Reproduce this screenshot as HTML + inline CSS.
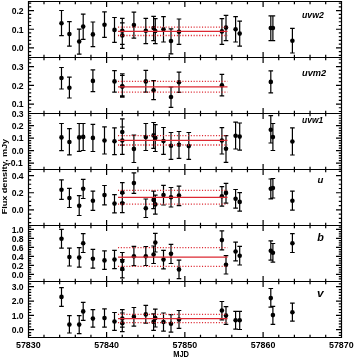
<!DOCTYPE html>
<html><head><meta charset="utf-8"><style>
html,body{margin:0;padding:0;background:#fff;width:354px;height:358px;overflow:hidden;}
svg{display:block;will-change:transform;}
.t{font-family:"Liberation Sans",sans-serif;font-weight:bold;font-size:8.6px;fill:#000;}
.fs{font-family:"Liberation Sans",sans-serif;font-weight:bold;font-style:italic;fill:#000;}
.ff{font-family:"Liberation Serif",serif;font-weight:bold;font-style:italic;fill:#000;}
</style></head><body>
<svg width="354" height="358" viewBox="0 0 354 358">
<rect x="0" y="0" width="354" height="358" fill="#fff"/>
<path d="M44 1.5v2.7M44 57.5v-2.7M59.65 1.5v2.7M59.65 57.5v-2.7M75.3 1.5v2.7M75.3 57.5v-2.7M90.95 1.5v2.7M90.95 57.5v-2.7M106.6 1.5v5.5M106.6 57.5v-5.5M122.25 1.5v2.7M122.25 57.5v-2.7M137.9 1.5v2.7M137.9 57.5v-2.7M153.55 1.5v2.7M153.55 57.5v-2.7M169.2 1.5v2.7M169.2 57.5v-2.7M184.85 1.5v5.5M184.85 57.5v-5.5M200.5 1.5v2.7M200.5 57.5v-2.7M216.15 1.5v2.7M216.15 57.5v-2.7M231.8 1.5v2.7M231.8 57.5v-2.7M247.45 1.5v2.7M247.45 57.5v-2.7M263.1 1.5v5.5M263.1 57.5v-5.5M278.75 1.5v2.7M278.75 57.5v-2.7M294.4 1.5v2.7M294.4 57.5v-2.7M310.05 1.5v2.7M310.05 57.5v-2.7M325.7 1.5v2.7M325.7 57.5v-2.7M28.5 55.37h2.7M341.5 55.37h-2.7M28.5 51.63h2.7M341.5 51.63h-2.7M28.5 47.9h5.5M341.5 47.9h-5.5M28.5 44.17h2.7M341.5 44.17h-2.7M28.5 40.43h2.7M341.5 40.43h-2.7M28.5 36.7h2.7M341.5 36.7h-2.7M28.5 32.97h2.7M341.5 32.97h-2.7M28.5 29.23h5.5M341.5 29.23h-5.5M28.5 25.5h2.7M341.5 25.5h-2.7M28.5 21.77h2.7M341.5 21.77h-2.7M28.5 18.03h2.7M341.5 18.03h-2.7M28.5 14.3h2.7M341.5 14.3h-2.7M28.5 10.57h5.5M341.5 10.57h-5.5M28.5 6.83h2.7M341.5 6.83h-2.7M28.5 3.1h2.7M341.5 3.1h-2.7M44 57.5v2.7M44 113.5v-2.7M59.65 57.5v2.7M59.65 113.5v-2.7M75.3 57.5v2.7M75.3 113.5v-2.7M90.95 57.5v2.7M90.95 113.5v-2.7M106.6 57.5v5.5M106.6 113.5v-5.5M122.25 57.5v2.7M122.25 113.5v-2.7M137.9 57.5v2.7M137.9 113.5v-2.7M153.55 57.5v2.7M153.55 113.5v-2.7M169.2 57.5v2.7M169.2 113.5v-2.7M184.85 57.5v5.5M184.85 113.5v-5.5M200.5 57.5v2.7M200.5 113.5v-2.7M216.15 57.5v2.7M216.15 113.5v-2.7M231.8 57.5v2.7M231.8 113.5v-2.7M247.45 57.5v2.7M247.45 113.5v-2.7M263.1 57.5v5.5M263.1 113.5v-5.5M278.75 57.5v2.7M278.75 113.5v-2.7M294.4 57.5v2.7M294.4 113.5v-2.7M310.05 57.5v2.7M310.05 113.5v-2.7M325.7 57.5v2.7M325.7 113.5v-2.7M28.5 111.5h2.7M341.5 111.5h-2.7M28.5 107.77h2.7M341.5 107.77h-2.7M28.5 104.03h5.5M341.5 104.03h-5.5M28.5 100.3h2.7M341.5 100.3h-2.7M28.5 96.57h2.7M341.5 96.57h-2.7M28.5 92.83h2.7M341.5 92.83h-2.7M28.5 89.1h2.7M341.5 89.1h-2.7M28.5 85.37h5.5M341.5 85.37h-5.5M28.5 81.63h2.7M341.5 81.63h-2.7M28.5 77.9h2.7M341.5 77.9h-2.7M28.5 74.17h2.7M341.5 74.17h-2.7M28.5 70.43h2.7M341.5 70.43h-2.7M28.5 66.7h5.5M341.5 66.7h-5.5M28.5 62.97h2.7M341.5 62.97h-2.7M28.5 59.23h2.7M341.5 59.23h-2.7M44 113.5v2.7M44 169.5v-2.7M59.65 113.5v2.7M59.65 169.5v-2.7M75.3 113.5v2.7M75.3 169.5v-2.7M90.95 113.5v2.7M90.95 169.5v-2.7M106.6 113.5v5.5M106.6 169.5v-5.5M122.25 113.5v2.7M122.25 169.5v-2.7M137.9 113.5v2.7M137.9 169.5v-2.7M153.55 113.5v2.7M153.55 169.5v-2.7M169.2 113.5v2.7M169.2 169.5v-2.7M184.85 113.5v5.5M184.85 169.5v-5.5M200.5 113.5v2.7M200.5 169.5v-2.7M216.15 113.5v2.7M216.15 169.5v-2.7M231.8 113.5v2.7M231.8 169.5v-2.7M247.45 113.5v2.7M247.45 169.5v-2.7M263.1 113.5v5.5M263.1 169.5v-5.5M278.75 113.5v2.7M278.75 169.5v-2.7M294.4 113.5v2.7M294.4 169.5v-2.7M310.05 113.5v2.7M310.05 169.5v-2.7M325.7 113.5v2.7M325.7 169.5v-2.7M28.5 168.02h2.7M341.5 168.02h-2.7M28.5 165.53h2.7M341.5 165.53h-2.7M28.5 163.04h5.5M341.5 163.04h-5.5M28.5 160.56h2.7M341.5 160.56h-2.7M28.5 158.07h2.7M341.5 158.07h-2.7M28.5 155.58h2.7M341.5 155.58h-2.7M28.5 153.09h2.7M341.5 153.09h-2.7M28.5 150.6h5.5M341.5 150.6h-5.5M28.5 148.11h2.7M341.5 148.11h-2.7M28.5 145.62h2.7M341.5 145.62h-2.7M28.5 143.13h2.7M341.5 143.13h-2.7M28.5 140.64h2.7M341.5 140.64h-2.7M28.5 138.16h5.5M341.5 138.16h-5.5M28.5 135.67h2.7M341.5 135.67h-2.7M28.5 133.18h2.7M341.5 133.18h-2.7M28.5 130.69h2.7M341.5 130.69h-2.7M28.5 128.2h2.7M341.5 128.2h-2.7M28.5 125.71h5.5M341.5 125.71h-5.5M28.5 123.22h2.7M341.5 123.22h-2.7M28.5 120.73h2.7M341.5 120.73h-2.7M28.5 118.25h2.7M341.5 118.25h-2.7M28.5 115.76h2.7M341.5 115.76h-2.7M44 169.5v2.7M44 225.5v-2.7M59.65 169.5v2.7M59.65 225.5v-2.7M75.3 169.5v2.7M75.3 225.5v-2.7M90.95 169.5v2.7M90.95 225.5v-2.7M106.6 169.5v5.5M106.6 225.5v-5.5M122.25 169.5v2.7M122.25 225.5v-2.7M137.9 169.5v2.7M137.9 225.5v-2.7M153.55 169.5v2.7M153.55 225.5v-2.7M169.2 169.5v2.7M169.2 225.5v-2.7M184.85 169.5v5.5M184.85 225.5v-5.5M200.5 169.5v2.7M200.5 225.5v-2.7M216.15 169.5v2.7M216.15 225.5v-2.7M231.8 169.5v2.7M231.8 225.5v-2.7M247.45 169.5v2.7M247.45 225.5v-2.7M263.1 169.5v5.5M263.1 225.5v-5.5M278.75 169.5v2.7M278.75 225.5v-2.7M294.4 169.5v2.7M294.4 225.5v-2.7M310.05 169.5v2.7M310.05 225.5v-2.7M325.7 169.5v2.7M325.7 225.5v-2.7M28.5 222.59h2.7M341.5 222.59h-2.7M28.5 218.33h2.7M341.5 218.33h-2.7M28.5 214.06h2.7M341.5 214.06h-2.7M28.5 209.8h5.5M341.5 209.8h-5.5M28.5 205.54h2.7M341.5 205.54h-2.7M28.5 201.28h2.7M341.5 201.28h-2.7M28.5 197.01h2.7M341.5 197.01h-2.7M28.5 192.75h5.5M341.5 192.75h-5.5M28.5 188.49h2.7M341.5 188.49h-2.7M28.5 184.23h2.7M341.5 184.23h-2.7M28.5 179.96h2.7M341.5 179.96h-2.7M28.5 175.7h5.5M341.5 175.7h-5.5M28.5 171.44h2.7M341.5 171.44h-2.7M44 225.5v2.7M44 281.5v-2.7M59.65 225.5v2.7M59.65 281.5v-2.7M75.3 225.5v2.7M75.3 281.5v-2.7M90.95 225.5v2.7M90.95 281.5v-2.7M106.6 225.5v5.5M106.6 281.5v-5.5M122.25 225.5v2.7M122.25 281.5v-2.7M137.9 225.5v2.7M137.9 281.5v-2.7M153.55 225.5v2.7M153.55 281.5v-2.7M169.2 225.5v2.7M169.2 281.5v-2.7M184.85 225.5v5.5M184.85 281.5v-5.5M200.5 225.5v2.7M200.5 281.5v-2.7M216.15 225.5v2.7M216.15 281.5v-2.7M231.8 225.5v2.7M231.8 281.5v-2.7M247.45 225.5v2.7M247.45 281.5v-2.7M263.1 225.5v5.5M263.1 281.5v-5.5M278.75 225.5v2.7M278.75 281.5v-2.7M294.4 225.5v2.7M294.4 281.5v-2.7M310.05 225.5v2.7M310.05 281.5v-2.7M325.7 225.5v2.7M325.7 281.5v-2.7M28.5 278.79h2.7M341.5 278.79h-2.7M28.5 276.55h2.7M341.5 276.55h-2.7M28.5 274.3h5.5M341.5 274.3h-5.5M28.5 272.06h2.7M341.5 272.06h-2.7M28.5 269.81h2.7M341.5 269.81h-2.7M28.5 267.56h2.7M341.5 267.56h-2.7M28.5 265.32h5.5M341.5 265.32h-5.5M28.5 263.07h2.7M341.5 263.07h-2.7M28.5 260.83h2.7M341.5 260.83h-2.7M28.5 258.59h2.7M341.5 258.59h-2.7M28.5 256.34h5.5M341.5 256.34h-5.5M28.5 254.1h2.7M341.5 254.1h-2.7M28.5 251.85h2.7M341.5 251.85h-2.7M28.5 249.61h2.7M341.5 249.61h-2.7M28.5 247.36h5.5M341.5 247.36h-5.5M28.5 245.12h2.7M341.5 245.12h-2.7M28.5 242.87h2.7M341.5 242.87h-2.7M28.5 240.62h2.7M341.5 240.62h-2.7M28.5 238.38h5.5M341.5 238.38h-5.5M28.5 236.13h2.7M341.5 236.13h-2.7M28.5 233.89h2.7M341.5 233.89h-2.7M28.5 231.65h2.7M341.5 231.65h-2.7M28.5 229.4h5.5M341.5 229.4h-5.5M28.5 227.16h2.7M341.5 227.16h-2.7M44 281.5v2.7M44 337.5v-2.7M59.65 281.5v2.7M59.65 337.5v-2.7M75.3 281.5v2.7M75.3 337.5v-2.7M90.95 281.5v2.7M90.95 337.5v-2.7M106.6 281.5v5.5M106.6 337.5v-5.5M122.25 281.5v2.7M122.25 337.5v-2.7M137.9 281.5v2.7M137.9 337.5v-2.7M153.55 281.5v2.7M153.55 337.5v-2.7M169.2 281.5v2.7M169.2 337.5v-2.7M184.85 281.5v5.5M184.85 337.5v-5.5M200.5 281.5v2.7M200.5 337.5v-2.7M216.15 281.5v2.7M216.15 337.5v-2.7M231.8 281.5v2.7M231.8 337.5v-2.7M247.45 281.5v2.7M247.45 337.5v-2.7M263.1 281.5v5.5M263.1 337.5v-5.5M278.75 281.5v2.7M278.75 337.5v-2.7M294.4 281.5v2.7M294.4 337.5v-2.7M310.05 281.5v2.7M310.05 337.5v-2.7M325.7 281.5v2.7M325.7 337.5v-2.7M28.5 335.43h2.7M341.5 335.43h-2.7M28.5 332.57h2.7M341.5 332.57h-2.7M28.5 329.7h5.5M341.5 329.7h-5.5M28.5 326.83h2.7M341.5 326.83h-2.7M28.5 323.97h2.7M341.5 323.97h-2.7M28.5 321.1h2.7M341.5 321.1h-2.7M28.5 318.24h2.7M341.5 318.24h-2.7M28.5 315.37h5.5M341.5 315.37h-5.5M28.5 312.5h2.7M341.5 312.5h-2.7M28.5 309.64h2.7M341.5 309.64h-2.7M28.5 306.77h2.7M341.5 306.77h-2.7M28.5 303.91h2.7M341.5 303.91h-2.7M28.5 301.04h5.5M341.5 301.04h-5.5M28.5 298.17h2.7M341.5 298.17h-2.7M28.5 295.31h2.7M341.5 295.31h-2.7M28.5 292.44h2.7M341.5 292.44h-2.7M28.5 289.58h2.7M341.5 289.58h-2.7M28.5 286.71h5.5M341.5 286.71h-5.5M28.5 283.84h2.7M341.5 283.84h-2.7" stroke="#000" stroke-width="1.2" fill="none"/>
<path d="M61.5 10.5V35.6M59.2 10.5h4.6M59.2 35.6h4.6M69.4 21.7V46.1M67.1 21.7h4.6M67.1 46.1h4.6M79.2 29.2V54.2M76.9 29.2h4.6M76.9 54.2h4.6M83.2 14.1V39.3M80.9 14.1h4.6M80.9 39.3h4.6M92.9 22V46.6M90.6 22h4.6M90.6 46.6h4.6M104.5 11.9V37.3M102.2 11.9h4.6M102.2 37.3h4.6M114.5 17.5V42.4M112.2 17.5h4.6M112.2 42.4h4.6M122.3 18.3V44.4M120 18.3h4.6M120 44.4h4.6M122.3 22.9V48.3M120 22.9h4.6M120 48.3h4.6M133.9 12.2V38.1M131.6 12.2h4.6M131.6 38.1h4.6M145.8 18.3V43.6M143.5 18.3h4.6M143.5 43.6h4.6M153.6 16.4V40.7M151.3 16.4h4.6M151.3 40.7h4.6M155.3 18.6V43.7M153 18.6h4.6M153 43.7h4.6M163.5 16.6V42M161.2 16.6h4.6M161.2 42h4.6M171 28.8V53.9M168.7 28.8h4.6M168.7 53.9h4.6M179 19V44.4M176.7 19h4.6M176.7 44.4h4.6M221.9 18.6V44.4M219.6 18.6h4.6M219.6 44.4h4.6M226 15.3V40.7M223.7 15.3h4.6M223.7 40.7h4.6M235.6 16.6V42M233.3 16.6h4.6M233.3 42h4.6M239.7 21.2V46.1M237.4 21.2h4.6M237.4 46.1h4.6M270.8 15.8V40.7M268.5 15.8h4.6M268.5 40.7h4.6M272.9 15.8V40.7M270.6 15.8h4.6M270.6 40.7h4.6M292.4 28.3V53M290.1 28.3h4.6M290.1 53h4.6" stroke="#000" stroke-width="1.2" fill="none"/>
<g fill="#000"><circle cx="61.5" cy="23.2" r="2.3"/><circle cx="69.4" cy="34.1" r="2.3"/><circle cx="79.2" cy="41.5" r="2.3"/><circle cx="83.2" cy="26.6" r="2.3"/><circle cx="92.9" cy="34.4" r="2.3"/><circle cx="104.5" cy="24.7" r="2.3"/><circle cx="114.5" cy="29.9" r="2.3"/><circle cx="122.3" cy="30.8" r="2.3"/><circle cx="122.3" cy="35.4" r="2.3"/><circle cx="133.9" cy="25.1" r="2.3"/><circle cx="145.8" cy="30.8" r="2.3"/><circle cx="153.6" cy="28" r="2.3"/><circle cx="155.3" cy="31" r="2.3"/><circle cx="163.5" cy="29.2" r="2.3"/><circle cx="171" cy="41" r="2.3"/><circle cx="179" cy="31.7" r="2.3"/><circle cx="221.9" cy="31.4" r="2.3"/><circle cx="226" cy="27.6" r="2.3"/><circle cx="235.6" cy="29.3" r="2.3"/><circle cx="239.7" cy="33.6" r="2.3"/><circle cx="270.8" cy="28" r="2.3"/><circle cx="272.9" cy="28" r="2.3"/><circle cx="292.4" cy="40.7" r="2.3"/></g>
<path d="M118 31.3H227.5" stroke="#dc2832" stroke-width="1.2"/>
<path d="M118 27.1H227.5M118 35.5H227.5" stroke="#dc2832" stroke-width="1.3" stroke-dasharray="1.1 1.7"/>
<path d="M61.5 67.5V89M59.2 67.5h4.6M59.2 89h4.6M69.4 77.2V98M67.1 77.2h4.6M67.1 98h4.6M92.9 69.9V91.6M90.6 69.9h4.6M90.6 91.6h4.6M114.5 70.7V92.1M112.2 70.7h4.6M112.2 92.1h4.6M122.3 73.8V95.8M120 73.8h4.6M120 95.8h4.6M122.3 75.5V97.2M120 75.5h4.6M120 97.2h4.6M145.8 70.4V92.1M143.5 70.4h4.6M143.5 92.1h4.6M153.6 80.6V99.7M151.3 80.6h4.6M151.3 99.7h4.6M171 87V107.4M168.7 87h4.6M168.7 107.4h4.6M179 72.1V92.4M176.7 72.1h4.6M176.7 92.4h4.6M221.9 74.3V95.8M219.6 74.3h4.6M219.6 95.8h4.6M270.8 70.9V92.8M268.5 70.9h4.6M268.5 92.8h4.6" stroke="#000" stroke-width="1.2" fill="none"/>
<g fill="#000"><circle cx="61.5" cy="78" r="2.3"/><circle cx="69.4" cy="87.7" r="2.3"/><circle cx="92.9" cy="80.9" r="2.3"/><circle cx="114.5" cy="81.4" r="2.3"/><circle cx="122.3" cy="86.2" r="2.3"/><circle cx="122.3" cy="86.6" r="2.3"/><circle cx="145.8" cy="81.4" r="2.3"/><circle cx="153.6" cy="90.2" r="2.3"/><circle cx="171" cy="97" r="2.3"/><circle cx="179" cy="82.3" r="2.3"/><circle cx="221.9" cy="85.2" r="2.3"/><circle cx="270.8" cy="81.9" r="2.3"/></g>
<path d="M118 86.8H227.5" stroke="#dc2832" stroke-width="1.2"/>
<path d="M118 81.4H227.5M118 92.1H227.5" stroke="#dc2832" stroke-width="1.3" stroke-dasharray="1.1 1.7"/>
<path d="M61.5 123.5V150.6M59.2 123.5h4.6M59.2 150.6h4.6M69.4 128.6V154.9M67.1 128.6h4.6M67.1 154.9h4.6M79.2 123.5V151.3M76.9 123.5h4.6M76.9 151.3h4.6M83.2 123.5V150.5M80.9 123.5h4.6M80.9 150.5h4.6M92.9 124.4V151.5M90.6 124.4h4.6M90.6 151.5h4.6M104.5 126.9V154M102.2 126.9h4.6M102.2 154h4.6M114.5 127.8V154.7M112.2 127.8h4.6M112.2 154.7h4.6M122.3 118.8V145.2M120 118.8h4.6M120 145.2h4.6M122.3 127V154.4M120 127h4.6M120 154.4h4.6M133.9 135.2V162.5M131.6 135.2h4.6M131.6 162.5h4.6M145.8 123.5V150.5M143.5 123.5h4.6M143.5 150.5h4.6M153.6 122.5V148.4M151.3 122.5h4.6M151.3 148.4h4.6M155.3 124.7V151.5M153 124.7h4.6M153 151.5h4.6M163.5 127.5V154.4M161.2 127.5h4.6M161.2 154.4h4.6M171 132.5V159.3M168.7 132.5h4.6M168.7 159.3h4.6M179 131.5V158.4M176.7 131.5h4.6M176.7 158.4h4.6M188.8 132.5V159.4M186.5 132.5h4.6M186.5 159.4h4.6M221.9 127.6V154M219.6 127.6h4.6M219.6 154h4.6M226 135.7V162.3M223.7 135.7h4.6M223.7 162.3h4.6M235.6 122.2V149M233.3 122.2h4.6M233.3 149h4.6M239.7 123V150.1M237.4 123h4.6M237.4 150.1h4.6M270.8 115.7V143M268.5 115.7h4.6M268.5 143h4.6M272.9 123.5V150.5M270.6 123.5h4.6M270.6 150.5h4.6M292.4 127.9V155M290.1 127.9h4.6M290.1 155h4.6" stroke="#000" stroke-width="1.2" fill="none"/>
<g fill="#000"><circle cx="61.5" cy="137.4" r="2.3"/><circle cx="69.4" cy="142" r="2.3"/><circle cx="79.2" cy="137.4" r="2.3"/><circle cx="83.2" cy="136.9" r="2.3"/><circle cx="92.9" cy="137.9" r="2.3"/><circle cx="104.5" cy="140.5" r="2.3"/><circle cx="114.5" cy="141.3" r="2.3"/><circle cx="122.3" cy="132" r="2.3"/><circle cx="122.3" cy="140.5" r="2.3"/><circle cx="133.9" cy="148.9" r="2.3"/><circle cx="145.8" cy="137.1" r="2.3"/><circle cx="153.6" cy="135.4" r="2.3"/><circle cx="155.3" cy="137.9" r="2.3"/><circle cx="163.5" cy="141" r="2.3"/><circle cx="171" cy="145.8" r="2.3"/><circle cx="179" cy="144.7" r="2.3"/><circle cx="188.8" cy="146.1" r="2.3"/><circle cx="221.9" cy="140.5" r="2.3"/><circle cx="226" cy="148.8" r="2.3"/><circle cx="235.6" cy="135.7" r="2.3"/><circle cx="239.7" cy="136.6" r="2.3"/><circle cx="270.8" cy="129.8" r="2.3"/><circle cx="272.9" cy="137.1" r="2.3"/><circle cx="292.4" cy="141.5" r="2.3"/></g>
<path d="M118 140.3H227.5" stroke="#dc2832" stroke-width="1.2"/>
<path d="M118 135.7H227.5M118 145H227.5" stroke="#dc2832" stroke-width="1.3" stroke-dasharray="1.1 1.7"/>
<path d="M61.5 179.9V199.4M59.2 179.9h4.6M59.2 199.4h4.6M69.4 188.3V207.5M67.1 188.3h4.6M67.1 207.5h4.6M79.2 195.6V215.5M76.9 195.6h4.6M76.9 215.5h4.6M83.2 179.4V198.5M80.9 179.4h4.6M80.9 198.5h4.6M92.9 191.2V210.4M90.6 191.2h4.6M90.6 210.4h4.6M104.5 185.5V204.9M102.2 185.5h4.6M102.2 204.9h4.6M114.5 194.6V212.9M112.2 194.6h4.6M112.2 212.9h4.6M122.3 182.7V202.5M120 182.7h4.6M120 202.5h4.6M122.3 193.5V212.6M120 193.5h4.6M120 212.6h4.6M133.9 172.9V193.4M131.6 172.9h4.6M131.6 193.4h4.6M145.8 199V217.5M143.5 199h4.6M143.5 217.5h4.6M153.6 191.2V208.7M151.3 191.2h4.6M151.3 208.7h4.6M155.3 195.1V214.1M153 195.1h4.6M153 214.1h4.6M163.5 185.3V205M161.2 185.3h4.6M161.2 205h4.6M171 187.5V207M168.7 187.5h4.6M168.7 207h4.6M179 186.1V205.6M176.7 186.1h4.6M176.7 205.6h4.6M221.9 186.6V206.1M219.6 186.6h4.6M219.6 206.1h4.6M226 183.3V203.1M223.7 183.3h4.6M223.7 203.1h4.6M235.6 189.5V208.2M233.3 189.5h4.6M233.3 208.2h4.6M239.7 192.6V211.2M237.4 192.6h4.6M237.4 211.2h4.6M270.8 179V198.8M268.5 179h4.6M268.5 198.8h4.6M272.9 178.5V198M270.6 178.5h4.6M270.6 198h4.6M292.4 191.2V210.1M290.1 191.2h4.6M290.1 210.1h4.6" stroke="#000" stroke-width="1.2" fill="none"/>
<g fill="#000"><circle cx="61.5" cy="189.7" r="2.3"/><circle cx="69.4" cy="198" r="2.3"/><circle cx="79.2" cy="205.8" r="2.3"/><circle cx="83.2" cy="188.8" r="2.3"/><circle cx="92.9" cy="200.7" r="2.3"/><circle cx="104.5" cy="195.1" r="2.3"/><circle cx="114.5" cy="203.6" r="2.3"/><circle cx="122.3" cy="192.6" r="2.3"/><circle cx="122.3" cy="203.3" r="2.3"/><circle cx="133.9" cy="183.1" r="2.3"/><circle cx="145.8" cy="208.2" r="2.3"/><circle cx="153.6" cy="199.9" r="2.3"/><circle cx="155.3" cy="204.4" r="2.3"/><circle cx="163.5" cy="195.1" r="2.3"/><circle cx="171" cy="197.2" r="2.3"/><circle cx="179" cy="195.6" r="2.3"/><circle cx="221.9" cy="196.3" r="2.3"/><circle cx="226" cy="192.9" r="2.3"/><circle cx="235.6" cy="198.8" r="2.3"/><circle cx="239.7" cy="201.9" r="2.3"/><circle cx="270.8" cy="188.8" r="2.3"/><circle cx="272.9" cy="188" r="2.3"/><circle cx="292.4" cy="200.7" r="2.3"/></g>
<path d="M118 197.3H227.5" stroke="#dc2832" stroke-width="1.2"/>
<path d="M118 190.4H227.5M118 204.1H227.5" stroke="#dc2832" stroke-width="1.3" stroke-dasharray="1.1 1.7"/>
<path d="M61.5 229.4V248.2M59.2 229.4h4.6M59.2 248.2h4.6M69.4 248.2V266M67.1 248.2h4.6M67.1 266h4.6M79.2 247.7V267.2M76.9 247.7h4.6M76.9 267.2h4.6M83.2 233.7V252.5M80.9 233.7h4.6M80.9 252.5h4.6M92.9 249.4V268.1M90.6 249.4h4.6M90.6 268.1h4.6M104.5 250.8V269.4M102.2 250.8h4.6M102.2 269.4h4.6M114.5 250.3V268.6M112.2 250.3h4.6M112.2 268.6h4.6M122.3 252.5V270M120 252.5h4.6M120 270h4.6M122.3 259.5V277.9M120 259.5h4.6M120 277.9h4.6M133.9 246.4V265.7M131.6 246.4h4.6M131.6 265.7h4.6M145.8 246.5V265.5M143.5 246.5h4.6M143.5 265.5h4.6M153.6 246V263.5M151.3 246h4.6M151.3 263.5h4.6M155.3 233.3V252M153 233.3h4.6M153 252h4.6M163.5 250.3V268.9M161.2 250.3h4.6M161.2 268.9h4.6M171 244.3V263.5M168.7 244.3h4.6M168.7 263.5h4.6M179 260.1V278.6M176.7 260.1h4.6M176.7 278.6h4.6M221.9 230.8V249.9M219.6 230.8h4.6M219.6 249.9h4.6M226 255.7V274M223.7 255.7h4.6M223.7 274h4.6M235.6 242.1V260.8M233.3 242.1h4.6M233.3 260.8h4.6M239.7 246.4V265M237.4 246.4h4.6M237.4 265h4.6M270.8 240.9V260.1M268.5 240.9h4.6M268.5 260.1h4.6M272.9 243.5V262.1M270.6 243.5h4.6M270.6 262.1h4.6M292.4 233.7V252.5M290.1 233.7h4.6M290.1 252.5h4.6" stroke="#000" stroke-width="1.2" fill="none"/>
<g fill="#000"><circle cx="61.5" cy="238.7" r="2.3"/><circle cx="69.4" cy="257" r="2.3"/><circle cx="79.2" cy="257.6" r="2.3"/><circle cx="83.2" cy="243.2" r="2.3"/><circle cx="92.9" cy="258.7" r="2.3"/><circle cx="104.5" cy="260.4" r="2.3"/><circle cx="114.5" cy="259.6" r="2.3"/><circle cx="122.3" cy="261" r="2.3"/><circle cx="122.3" cy="268.9" r="2.3"/><circle cx="133.9" cy="256.2" r="2.3"/><circle cx="145.8" cy="256.2" r="2.3"/><circle cx="153.6" cy="254.5" r="2.3"/><circle cx="155.3" cy="242.6" r="2.3"/><circle cx="163.5" cy="259.6" r="2.3"/><circle cx="171" cy="253.7" r="2.3"/><circle cx="179" cy="269.4" r="2.3"/><circle cx="221.9" cy="240.1" r="2.3"/><circle cx="226" cy="264.7" r="2.3"/><circle cx="235.6" cy="251.5" r="2.3"/><circle cx="239.7" cy="255.7" r="2.3"/><circle cx="270.8" cy="250.8" r="2.3"/><circle cx="272.9" cy="252.8" r="2.3"/><circle cx="292.4" cy="243.2" r="2.3"/></g>
<path d="M118 257.2H227.5" stroke="#dc2832" stroke-width="1.2"/>
<path d="M118 247.7H227.5M118 266.4H227.5" stroke="#dc2832" stroke-width="1.3" stroke-dasharray="1.1 1.7"/>
<path d="M61.5 287.6V306.3M59.2 287.6h4.6M59.2 306.3h4.6M69.4 315.6V333M67.1 315.6h4.6M67.1 333h4.6M79.2 315.6V333.6M76.9 315.6h4.6M76.9 333.6h4.6M83.2 302.4V320.3M80.9 302.4h4.6M80.9 320.3h4.6M92.9 309.7V327.1M90.6 309.7h4.6M90.6 327.1h4.6M104.5 308.8V327.1M102.2 308.8h4.6M102.2 327.1h4.6M114.5 312.5V330.3M112.2 312.5h4.6M112.2 330.3h4.6M122.3 309.7V327.1M120 309.7h4.6M120 327.1h4.6M122.3 313V331.7M120 313h4.6M120 331.7h4.6M133.9 307.5V326.1M131.6 307.5h4.6M131.6 326.1h4.6M145.8 305.4V323.2M143.5 305.4h4.6M143.5 323.2h4.6M153.6 313.9V330.3M151.3 313.9h4.6M151.3 330.3h4.6M155.3 309.2V327M153 309.2h4.6M153 327h4.6M163.5 313V331.2M161.2 313h4.6M161.2 331.2h4.6M171 314.7V332.2M168.7 314.7h4.6M168.7 332.2h4.6M179 310.5V328.3M176.7 310.5h4.6M176.7 328.3h4.6M221.9 301.5V319.8M219.6 301.5h4.6M219.6 319.8h4.6M226 306.6V324.4M223.7 306.6h4.6M223.7 324.4h4.6M235.6 311.4V329.2M233.3 311.4h4.6M233.3 329.2h4.6M239.7 311.4V329.5M237.4 311.4h4.6M237.4 329.5h4.6M270.8 288.5V307.1M268.5 288.5h4.6M268.5 307.1h4.6M272.9 306.3V324.4M270.6 306.3h4.6M270.6 324.4h4.6M292.4 303.2V321.2M290.1 303.2h4.6M290.1 321.2h4.6" stroke="#000" stroke-width="1.2" fill="none"/>
<g fill="#000"><circle cx="61.5" cy="296.9" r="2.3"/><circle cx="69.4" cy="324.6" r="2.3"/><circle cx="79.2" cy="324.6" r="2.3"/><circle cx="83.2" cy="311.4" r="2.3"/><circle cx="92.9" cy="318.6" r="2.3"/><circle cx="104.5" cy="318.1" r="2.3"/><circle cx="114.5" cy="321.5" r="2.3"/><circle cx="122.3" cy="318.6" r="2.3"/><circle cx="122.3" cy="323.2" r="2.3"/><circle cx="133.9" cy="316.8" r="2.3"/><circle cx="145.8" cy="314.4" r="2.3"/><circle cx="153.6" cy="321.9" r="2.3"/><circle cx="155.3" cy="318.1" r="2.3"/><circle cx="163.5" cy="322" r="2.3"/><circle cx="171" cy="323.7" r="2.3"/><circle cx="179" cy="319.5" r="2.3"/><circle cx="221.9" cy="310.5" r="2.3"/><circle cx="226" cy="315.6" r="2.3"/><circle cx="235.6" cy="320.2" r="2.3"/><circle cx="239.7" cy="320.2" r="2.3"/><circle cx="270.8" cy="298.1" r="2.3"/><circle cx="272.9" cy="315.1" r="2.3"/><circle cx="292.4" cy="312.2" r="2.3"/></g>
<path d="M118 318.6H227.5" stroke="#dc2832" stroke-width="1.2"/>
<path d="M118 314.3H227.5M118 322.7H227.5" stroke="#dc2832" stroke-width="1.3" stroke-dasharray="1.1 1.7"/>
<path d="M28.5 1.5H341.5V337.5H28.5ZM28.5 57.5H341.5M28.5 113.5H341.5M28.5 169.5H341.5M28.5 225.5H341.5M28.5 281.5H341.5" stroke="#000" stroke-width="1.2" fill="none"/>
<text class="t" x="23.6" y="13.87" text-anchor="end">0.2</text>
<text class="t" x="23.6" y="32.53" text-anchor="end">0.1</text>
<text class="t" x="23.6" y="51.2" text-anchor="end">0.0</text>
<text class="t" x="23.6" y="70" text-anchor="end">0.3</text>
<text class="t" x="23.6" y="88.67" text-anchor="end">0.2</text>
<text class="t" x="23.6" y="107.33" text-anchor="end">0.1</text>
<text class="t" x="23.6" y="116.57" text-anchor="end">0.3</text>
<text class="t" x="23.6" y="129.01" text-anchor="end">0.2</text>
<text class="t" x="23.6" y="141.46" text-anchor="end">0.1</text>
<text class="t" x="23.6" y="153.9" text-anchor="end">0.0</text>
<text class="t" x="22.7" y="166.34" text-anchor="end">-0.1</text>
<text class="t" x="23.6" y="179" text-anchor="end">0.4</text>
<text class="t" x="23.6" y="196.05" text-anchor="end">0.2</text>
<text class="t" x="23.6" y="213.1" text-anchor="end">0.0</text>
<text class="t" x="23.6" y="232.7" text-anchor="end">1.0</text>
<text class="t" x="23.6" y="241.68" text-anchor="end">0.8</text>
<text class="t" x="23.6" y="250.66" text-anchor="end">0.6</text>
<text class="t" x="23.6" y="259.64" text-anchor="end">0.4</text>
<text class="t" x="23.6" y="268.62" text-anchor="end">0.2</text>
<text class="t" x="23.6" y="277.6" text-anchor="end">0.0</text>
<text class="t" x="23.6" y="290.01" text-anchor="end">3.0</text>
<text class="t" x="23.6" y="304.34" text-anchor="end">2.0</text>
<text class="t" x="23.6" y="318.67" text-anchor="end">1.0</text>
<text class="t" x="23.6" y="333" text-anchor="end">0.0</text>
<text class="t" x="28.35" y="347.9" text-anchor="middle" style="font-size:8.9px">57830</text>
<text class="t" x="106.6" y="347.9" text-anchor="middle" style="font-size:8.9px">57840</text>
<text class="t" x="184.85" y="347.9" text-anchor="middle" style="font-size:8.9px">57850</text>
<text class="t" x="263.1" y="347.9" text-anchor="middle" style="font-size:8.9px">57860</text>
<text class="t" x="341.35" y="347.9" text-anchor="middle" style="font-size:8.9px">57870</text>
<text class="t" x="181.1" y="357.1" text-anchor="middle" textLength="15.8" lengthAdjust="spacingAndGlyphs" style="font-size:8.7px">MJD</text>
<text class="t" transform="translate(7.0 176.6) rotate(-90)" text-anchor="middle" textLength="75.5" lengthAdjust="spacingAndGlyphs" style="font-size:7.3px">Flux density, mJy</text>
<text class="fs" x="302" y="17.8" textLength="21.9" lengthAdjust="spacingAndGlyphs" style="font-size:9.0px;font-weight:bold">uvw2</text>
<text class="fs" x="302" y="75.8" textLength="24.2" lengthAdjust="spacingAndGlyphs" style="font-size:9.0px;font-weight:bold">uvm2</text>
<text class="fs" x="302" y="122.8" textLength="21.2" lengthAdjust="spacingAndGlyphs" style="font-size:9.0px;font-weight:bold">uvw1</text>
<text class="fs" x="317.4" y="183" style="font-size:9.6px;font-weight:bold">u</text>
<text class="fs" x="317.2" y="240.6" textLength="6.6" lengthAdjust="spacingAndGlyphs" style="font-size:11.4px;font-weight:bold">b</text>
<text class="fs" x="317" y="296.9" textLength="6.6" lengthAdjust="spacingAndGlyphs" style="font-size:11.2px;font-weight:bold">v</text>
</svg></body></html>
